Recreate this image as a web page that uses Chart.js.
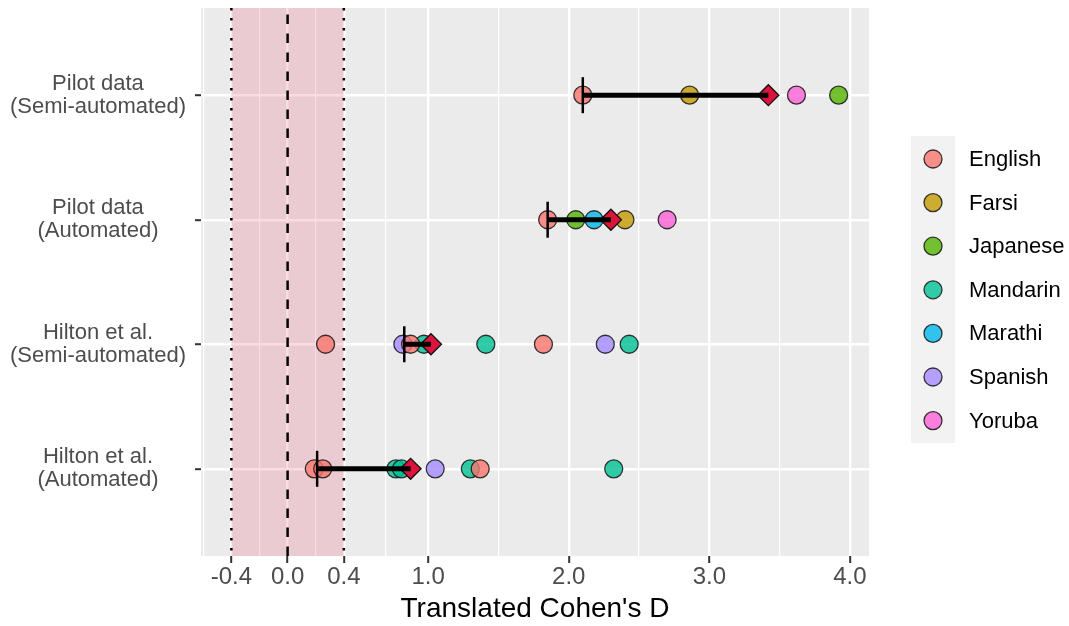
<!DOCTYPE html>
<html>
<head>
<meta charset="utf-8">
<script src="https://cdn.jsdelivr.net/npm/chart.js@4.4.1/dist/chart.umd.min.js"></script>
<style>
  html, body { margin: 0; padding: 0; background: #fff; }
</style>
</head>
<body>
<canvas id="effects" width="1069" height="626"></canvas>
<script>
// studies, top row first
const studies = [
  ['Pilot data', '(Semi-automated)'],
  ['Pilot data', '(Automated)'],
  ['Hilton et al.', '(Semi-automated)'],
  ['Hilton et al.', '(Automated)']
];

const languages = ['English', 'Farsi', 'Japanese', 'Mandarin', 'Marathi', 'Spanish', 'Yoruba'];
const langColors = ['#F8766D', '#C49A00', '#53B400', '#00C094', '#00B6EB', '#A58AFF', '#FB61D7'];

// [study index, translated Cohen's D]
const english  = [[0, 2.10], [1, 1.85], [2, 0.27], [2, 0.875], [2, 1.82], [3, 0.19], [3, 0.25], [3, 1.37]];
const farsi    = [[0, 2.86], [1, 2.40]];
const japanese = [[0, 3.92], [1, 2.05]];
const mandarin = [[2, 0.97], [2, 1.41], [2, 2.43], [3, 0.77], [3, 0.81], [3, 1.30], [3, 2.32]];
const marathi  = [[1, 2.18]];
const spanish  = [[2, 0.82], [2, 2.26], [3, 1.05]];
const yoruba   = [[0, 3.62], [1, 2.70]];
const langValues = [english, farsi, japanese, mandarin, marathi, spanish, yoruba];

// english reference (vertical mark) and mean of translations (diamond), per study
const englishRef = [2.10, 1.85, 0.83, 0.21];
const meanD = [3.42, 2.30, 1.02, 0.875];

// x axis
const xMin = -0.616, xMax = 4.136;
const xMajor = [-0.4, 0.0, 0.4, 1.0, 2.0, 3.0, 4.0];
const xMinor = [-0.6, -0.2, 0.2, 0.7, 1.5, 2.5, 3.5];
const bandLo = -0.4, bandHi = 0.4;

const FONT = '"Liberation Sans", Arial, sans-serif';
Chart.defaults.font.family = FONT;

const n = studies.length;
const rowY = (i) => n - i;
const isMajor = (v) => xMajor.some(m => Math.abs(m - v) < 1e-9);

function withAlpha(hex, a) {
  const r = parseInt(hex.slice(1, 3), 16), g = parseInt(hex.slice(3, 5), 16), b = parseInt(hex.slice(5, 7), 16);
  return `rgba(${r},${g},${b},${a})`;
}

const datasets = [];

// reference marks at the English value
datasets.push({
  data: englishRef.map((d, i) => ({x: d, y: rowY(i)})),
  pointStyle: 'line', rotation: 90, pointRadius: 18,
  borderColor: '#000', borderWidth: 2.5, order: 1
});

// segment from English to mean
englishRef.forEach((d, i) => {
  datasets.push({
    data: [{x: d, y: rowY(i)}, {x: meanD[i], y: rowY(i)}],
    showLine: true, borderColor: '#000', borderWidth: 5, pointRadius: 0, order: 2
  });
});

// mean diamonds
datasets.push({
  data: meanD.map((d, i) => ({x: d, y: rowY(i)})),
  pointStyle: 'rectRot', pointRadius: 10.5,
  backgroundColor: '#DC143C', borderColor: '#111', borderWidth: 1.3, order: 3
});

// language points
languages.forEach((lang, k) => {
  datasets.push({
    label: lang,
    data: langValues[k].map(([s, d]) => ({x: d, y: rowY(s)})),
    pointRadius: 9,
    backgroundColor: withAlpha(langColors[k], 0.8),
    borderColor: 'rgba(20,20,20,0.85)', borderWidth: 1.3,
    order: k === 0 ? 4 : 5 + k
  });
});

const panelBg = {
  id: 'panelBg',
  beforeDraw(chart) {
    const {ctx, chartArea: a} = chart;
    ctx.save();
    ctx.fillStyle = '#EBEBEB';
    ctx.fillRect(a.left, a.top, a.width, a.height);
    ctx.restore();
  }
};

const nullBand = {
  id: 'nullBand',
  beforeDatasetsDraw(chart) {
    const {ctx, chartArea: a, scales: {x}} = chart;
    const x0 = x.getPixelForValue(bandLo), x1 = x.getPixelForValue(bandHi), xz = x.getPixelForValue(0);
    ctx.save();
    ctx.fillStyle = 'rgba(220,20,60,0.15)';
    ctx.fillRect(x0, a.top, x1 - x0, a.height);
    ctx.strokeStyle = '#000';
    ctx.lineWidth = 2.5;
    ctx.setLineDash([2.5, 7.5]);
    [x0, x1].forEach(px => {
      ctx.beginPath(); ctx.moveTo(px, a.top); ctx.lineTo(px, a.bottom); ctx.stroke();
    });
    ctx.setLineDash([9.5, 9.5]);
    ctx.beginPath(); ctx.moveTo(xz, a.bottom); ctx.lineTo(xz, a.top); ctx.stroke();
    ctx.restore();
  }
};

const langLegend = {
  id: 'langLegend',
  afterDraw(chart) {
    const {ctx} = chart;
    const keyX = 933, top = 159, step = 43.6;
    ctx.save();
    ctx.fillStyle = '#F2F2F2';
    ctx.fillRect(911, 136, 44, 307);
    languages.forEach((lang, k) => {
      const y = top + k * step;
      ctx.beginPath();
      ctx.arc(keyX, y, 9, 0, Math.PI * 2);
      ctx.fillStyle = withAlpha(langColors[k], 0.8);
      ctx.fill();
      ctx.lineWidth = 1.3;
      ctx.strokeStyle = 'rgba(20,20,20,0.85)';
      ctx.stroke();
      ctx.fillStyle = '#000';
      ctx.font = '22px ' + FONT;
      ctx.textAlign = 'left';
      ctx.textBaseline = 'middle';
      ctx.fillText(lang, 969, y + 1);
    });
    ctx.restore();
  }
};

new Chart(document.getElementById('effects'), {
  type: 'scatter',
  data: {datasets},
  options: {
    responsive: false,
    animation: false,
    events: [],
    layout: {autoPadding: false, padding: {top: 8, right: 200, left: 0, bottom: 0}},
    plugins: {legend: {display: false}, tooltip: {enabled: false}},
    scales: {
      x: {
        type: 'linear', min: xMin, max: xMax,
        afterBuildTicks: (s) => {
          s.ticks = xMajor.concat(xMinor).sort((a, b) => a - b).map(v => ({value: v}));
        },
        afterFit: (s) => { s.height = 70; s.paddingLeft = 0; s.paddingRight = 0; },
        ticks: {
          autoSkip: false, maxRotation: 0, minRotation: 0, padding: 0,
          color: '#4D4D4D', font: {size: 24},
          callback: (v) => isMajor(v) ? v.toFixed(1) : ''
        },
        grid: {
          color: '#FFFFFF',
          lineWidth: (c) => c.tick && isMajor(c.tick.value) ? 2.4 : 1.2,
          drawTicks: true, tickLength: 7, tickWidth: 2,
          tickColor: (c) => c.tick && isMajor(c.tick.value) ? '#333333' : 'rgba(0,0,0,0)'
        },
        border: {display: false},
        title: {
          display: true, text: "Translated Cohen's D", color: '#000',
          font: {size: 28}, padding: {top: 0, bottom: 0}
        }
      },
      y: {
        type: 'linear', min: 0.3, max: 4.7,
        afterBuildTicks: (s) => { s.ticks = studies.map((_, i) => ({value: rowY(i)})); },
        afterFit: (s) => { s.width = 201; s.paddingTop = 0; s.paddingBottom = 0; },
        ticks: {
          crossAlign: 'center', padding: 9, color: '#4D4D4D',
          font: {size: 22, lineHeight: '23px'},
          callback: (v) => studies[n - v]
        },
        grid: {color: '#FFFFFF', lineWidth: 2.4, tickLength: 6, tickWidth: 2, tickColor: '#333333'},
        border: {display: false}
      }
    }
  },
  plugins: [panelBg, nullBand, langLegend]
});
</script>
</body>
</html>
